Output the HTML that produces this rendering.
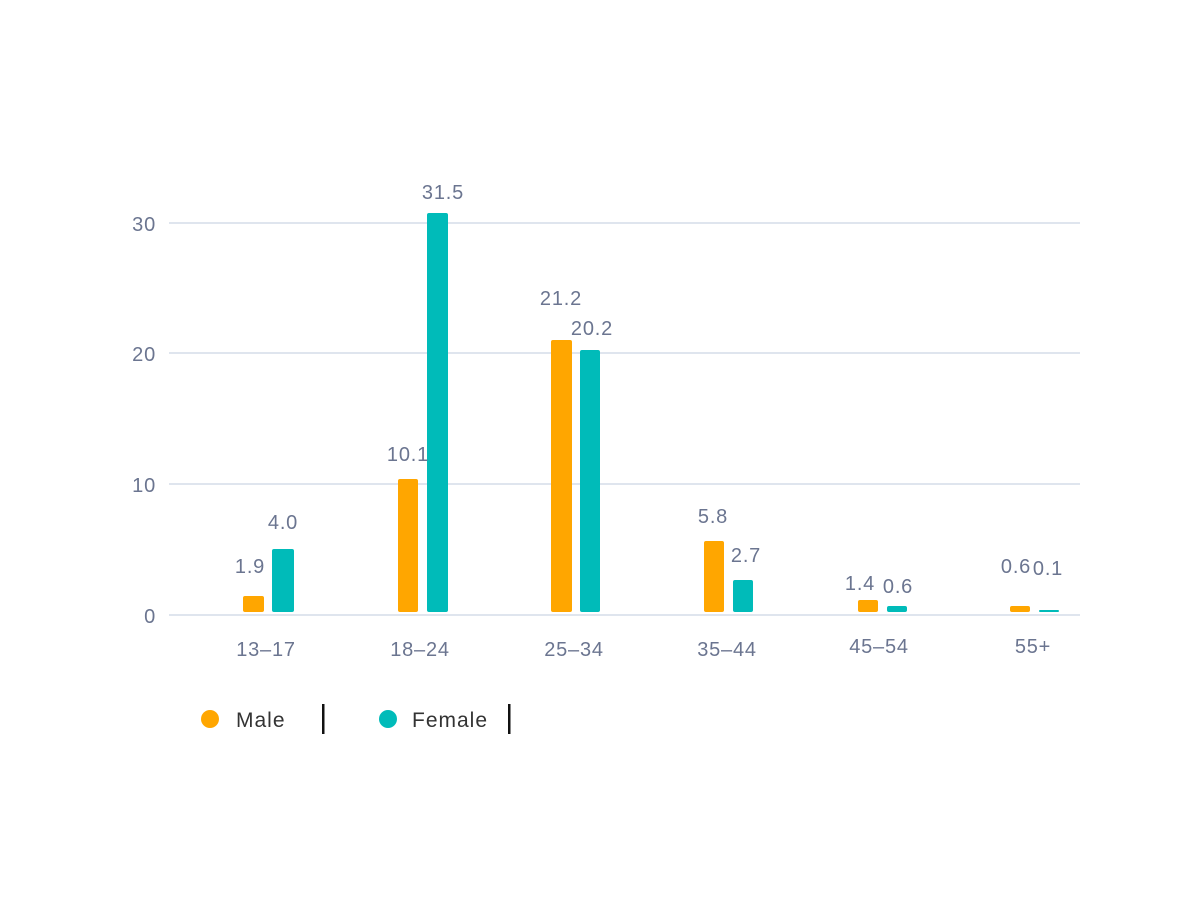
<!DOCTYPE html><html><head><style>body{margin:0;background:#fff}svg{display:block}text{font-family:"Liberation Sans",sans-serif}</style></head><body>
<svg width="1200" height="900" xmlns="http://www.w3.org/2000/svg">
<g stroke="#dfe5ee" stroke-width="2">
<line x1="169" x2="1080" y1="223" y2="223"/><line x1="169" x2="1080" y1="353" y2="353"/><line x1="169" x2="1080" y1="484" y2="484"/><line x1="169" x2="1080" y1="615" y2="615"/></g>
<g fill="#6b7590" font-size="20" letter-spacing="0.8" text-anchor="end">
<text x="156" y="231">30</text><text x="156" y="361">20</text><text x="156" y="492">10</text><text x="156" y="623">0</text></g>
<g fill="#ffa600">
<rect x="243" y="596" width="21" height="16" rx="2"/><rect x="398" y="479" width="20" height="133" rx="2"/><rect x="551" y="340" width="21" height="272" rx="2"/><rect x="704" y="541" width="20" height="71" rx="2"/><rect x="858" y="600" width="20" height="12" rx="2"/><rect x="1010" y="606" width="20" height="6" rx="2"/></g>
<g fill="#00bbb9">
<rect x="272" y="549" width="22" height="63" rx="2"/><rect x="427" y="213" width="21" height="399" rx="2"/><rect x="580" y="350" width="20" height="262" rx="2"/><rect x="733" y="580" width="20" height="32" rx="2"/><rect x="887" y="606" width="20" height="6" rx="2"/><rect x="1039" y="610" width="20" height="2" rx="1"/></g>
<g fill="#6b7590" font-size="20" letter-spacing="0.8" text-anchor="middle">
<text x="250" y="573">1.9</text><text x="283" y="529">4.0</text><text x="408" y="461">10.1</text><text x="443" y="199">31.5</text><text x="561" y="305">21.2</text><text x="592" y="335">20.2</text><text x="713" y="523">5.8</text><text x="746" y="562">2.7</text><text x="860" y="590">1.4</text><text x="898" y="593">0.6</text><text x="1016" y="573">0.6</text><text x="1048" y="575">0.1</text>
<text x="266" y="656">13–17</text><text x="420" y="656">18–24</text><text x="574" y="656">25–34</text><text x="727" y="656">35–44</text><text x="879" y="653">45–54</text><text x="1033" y="653">55+</text></g>
<circle cx="210" cy="719" r="9" fill="#ffa600"/><text x="236" y="727" font-size="21" letter-spacing="1" fill="#333">Male</text><rect x="322" y="704" width="2.5" height="30" fill="#111"/>
<circle cx="388" cy="719" r="9" fill="#00bbb9"/><text x="412" y="727" font-size="21" letter-spacing="1" fill="#333">Female</text><rect x="508" y="704" width="2.5" height="30" fill="#111"/>
</svg></body></html>
